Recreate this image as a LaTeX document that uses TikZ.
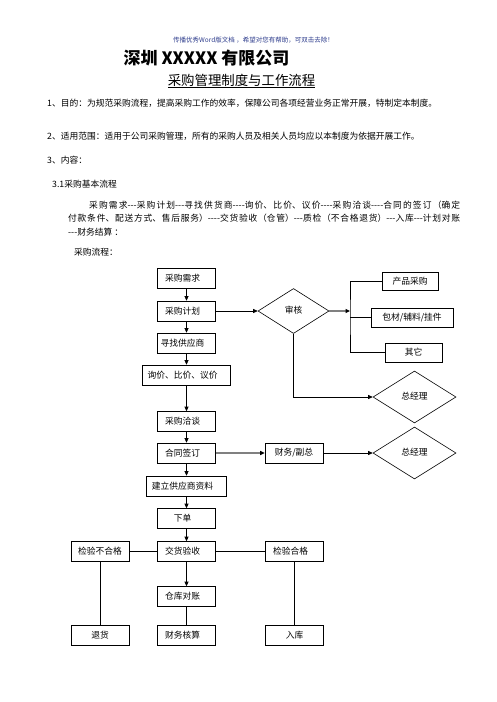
\documentclass[tikz,border=0pt]{standalone}
\usepackage{fontspec}
\setmainfont{Noto Sans CJK SC}
\usepackage{xcolor}
\usepackage{tikz}
\usetikzlibrary{positioning,arrows.meta,shapes.geometric}
\XeTeXlinebreaklocale "zh"
\XeTeXlinebreakskip=0pt plus 1pt
\definecolor{tipblue}{RGB}{45,60,140}
\newcommand\bodyfont{\fontsize{8.75pt}{13.5pt}\selectfont}

\begin{document}
\begin{tikzpicture}[x=1pt,y=-1pt,
        txt/.style={anchor=west,inner sep=0pt,font=\bodyfont},
        blk/.style={rectangle,draw,line width=0.6pt,minimum width=58pt,minimum height=20pt,inner sep=0pt,font=\bodyfont},
        nudge/.style={execute at end node={\hspace*{8pt}}},
        dia/.style={diamond,draw,line width=0.6pt,minimum width=83pt,minimum height=52pt,inner sep=0pt,font=\bodyfont},
        arrow/.style={-{Triangle[length=4.5pt,width=4pt]},line width=0.6pt},
        garrow/.style={-{Triangle[length=4.5pt,width=4pt,color=black]},line width=1.6pt,draw=black!50},
        link/.style={line width=0.6pt}]
        \useasboundingbox (0,0) rectangle (496,702);
        % heading
        \node[font=\fontsize{6.5pt}{8pt}\selectfont,text=tipblue] (tip) at (253.5,40) {传播优秀Word版文档 ，希望对您有帮助，可双击去除！};
        \node[font=\fontsize{17pt}{20pt}\selectfont\bfseries] (title) at (206.5,58) {深圳 XXXXX 有限公司};
        \node[font=\fontsize{13.4pt}{16pt}\selectfont] (subtitle) at (241.5,81) {\underline{采购管理制度与工作流程}};
        \node[txt] (aim) at (47,103) {1、目的：为规范采购流程，提高采购工作的效率，保障公司各项经营业务正常开展，特制定本制度。};
        \node[txt] (range) at (47,136) {2、适用范围：适用于公司采购管理，所有的采购人员及相关人员均应以本制度为依据开展工作。};
        \node[txt] (content) at (47,160) {3、内容：};
        \node[txt] (basic) at (52,184) {3.1采购基本流程};
        \node[anchor=north west,inner sep=0pt,text width=392pt,align=justify,font=\bodyfont] (steps) at (68,200.5)
            {\hspace*{21pt}采购需求-{}-{}-采购计划-{}-{}-寻找供货商-{}-{}-{}-询价、比价、议价-{}-{}-{}-采购洽谈-{}-{}-{}-合同的签订（确定\linebreak
             付款条件、配送方式、售后服务）-{}-{}-{}-交货验收（仓管）-{}-{}-质检（不合格退货）-{}-{}-入库-{}-{}-计划对账\linebreak
             -{}-{}-财务结算 ：};
        \node[txt] (flowlbl) at (74,252) {采购流程：};
        % main column
        \node[blk,nudge] (need) at (186.5,278.5) {采购需求};
        \node[blk,nudge] (plan) at (186.5,311) {采购计划};
        \node[blk,nudge] (find) at (186.5,343) {寻找供应商};
        \node[blk,nudge,minimum width=88pt] (quote) at (186.5,375) {询价、比价、议价};
        \node[blk,nudge] (nego) at (186.5,421.5) {采购洽谈};
        \node[blk,nudge] (sign) at (186.5,453) {合同签订};
        \node[blk,nudge,minimum width=80pt] (file) at (186.5,486) {建立供应商资料};
        \node[blk,nudge] (order) at (186.5,518.5) {下单};
        \node[blk,nudge] (recv) at (186.5,551.5) {交货验收};
        \node[blk] (fail) at (100,551.5) {检验不合格};
        \node[blk,nudge] (pass) at (294.5,551.5) {检验合格};
        \node[blk,nudge] (check) at (186.5,596.5) {仓库对账};
        \node[blk] (back) at (100,635.5) {退货};
        \node[blk,nudge] (settle) at (186.5,635.5) {财务核算};
        \node[blk] (stock) at (294.5,635.5) {入库};
        % review branch
        \node[dia,minimum width=71pt,minimum height=45pt] (audit) at (293.5,311) {\raisebox{2pt}{审核}};
        \node[blk,minimum width=56pt,minimum height=18pt] (prod) at (410,281) {产品采购};
        \node[blk,minimum width=82pt,minimum height=19pt] (pack) at (412,317.5) {包材/辅料/挂件};
        \node[blk,minimum width=57pt,minimum height=19pt] (other) at (413.5,352.5) {其它};
        \coordinate (fork) at (350,317.5);
        \node[dia] (gm1) at (414.5,397) {\raisebox{3pt}{总经理}};
        \node[blk] (fin) at (294,453) {财务/副总};
        \node[dia] (gm2) at (414.5,453) {\raisebox{3pt}{总经理}};
        % connectors
        \foreach \a/\b in {need/plan,plan/find,find/quote,quote/nego,nego/sign,sign/file,file/order,order/recv,recv/check}
            \draw[arrow] (\a) -- (\b);
        \draw[arrow] (plan) -- (audit);
        \draw[garrow] (audit) -- (audit -| fork);
        \draw[link] (prod.west) -| (fork) |- (other.west);
        \draw[link] (fork) -- (pack.west);
        \draw[arrow] (audit.south) |- (gm1.west);
        \draw[garrow] (sign) -- (fin);
        \draw[arrow] (fin) -- (gm2);
        \draw[link] (fail) -- (recv) -- (pass);
        \draw[link] (fail) -- (back);
        \draw[link] (check) -- (settle);
        \draw[link] (pass) -- (stock);
    \end{tikzpicture}
\end{document}
